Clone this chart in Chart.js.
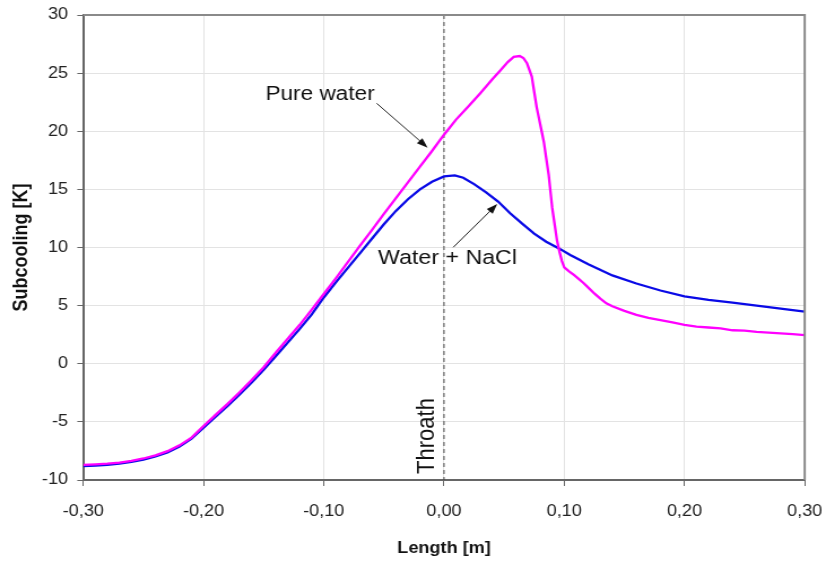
<!DOCTYPE html>
<html><head><meta charset="utf-8">
<script src="https://cdn.jsdelivr.net/npm/chart.js@4"></script>
<style>html,body{margin:0;padding:0;background:#fff;overflow:hidden}</style>
</head><body>
<canvas id="c" width="731" height="562" style="display:block;width:826px;height:562px"></canvas>
<script>
// ---- data ----
const pureX = [-0.300,-0.290,-0.280,-0.270,-0.260,-0.250,-0.240,-0.230,-0.220,-0.210,-0.200,-0.190,-0.180,-0.170,-0.160,-0.150,-0.140,-0.130,-0.120,-0.110,-0.100,-0.090,-0.080,-0.070,-0.060,-0.050,-0.040,-0.030,-0.020,-0.010,0.000,0.010,0.020,0.030,0.040,0.047,0.053,0.058,0.063,0.066,0.069,0.073,0.077,0.080,0.083,0.087,0.090,0.092,0.094,0.096,0.098,0.100,0.104,0.108,0.112,0.116,0.120,0.125,0.130,0.135,0.140,0.150,0.160,0.170,0.180,0.190,0.200,0.210,0.220,0.230,0.240,0.250,0.260,0.270,0.280,0.290,0.300];
const pureY = [-8.70,-8.66,-8.60,-8.50,-8.36,-8.15,-7.88,-7.52,-7.02,-6.35,-5.35,-4.40,-3.45,-2.45,-1.40,-0.30,0.95,2.15,3.35,4.65,6.00,7.35,8.75,10.15,11.50,12.90,14.25,15.60,16.95,18.30,19.70,21.00,22.10,23.25,24.45,25.25,25.95,26.40,26.47,26.30,25.85,24.70,22.10,20.60,19.10,16.30,13.40,12.00,10.60,9.65,8.85,8.30,7.95,7.65,7.30,6.95,6.55,6.05,5.60,5.20,4.95,4.55,4.20,3.95,3.75,3.55,3.35,3.20,3.12,3.05,2.88,2.85,2.75,2.68,2.62,2.55,2.47];
const saltX = [-0.300,-0.290,-0.280,-0.270,-0.260,-0.250,-0.240,-0.230,-0.220,-0.210,-0.200,-0.190,-0.180,-0.170,-0.160,-0.150,-0.140,-0.130,-0.120,-0.110,-0.100,-0.090,-0.080,-0.070,-0.060,-0.050,-0.040,-0.030,-0.020,-0.010,0.000,0.009,0.016,0.025,0.035,0.045,0.055,0.065,0.075,0.085,0.096,0.105,0.120,0.140,0.160,0.170,0.180,0.200,0.220,0.240,0.260,0.280,0.300];
const saltY = [-8.80,-8.76,-8.70,-8.60,-8.45,-8.25,-7.97,-7.62,-7.12,-6.45,-5.50,-4.55,-3.62,-2.65,-1.62,-0.52,0.65,1.82,3.00,4.25,5.70,7.00,8.25,9.50,10.75,12.00,13.15,14.15,15.00,15.66,16.12,16.20,16.00,15.45,14.75,13.95,12.95,12.05,11.20,10.50,9.90,9.35,8.55,7.60,6.90,6.60,6.30,5.80,5.50,5.25,5.00,4.75,4.48];
const seriesNames = ["Pure water", "Water + NaCl"];
const xTitle = "Length [m]";
const yTitle = "Subcooling [K]";
const throatLabel = "Throath";
const throatX = 0.0;

// ---- layout helpers (canvas is stretched horizontally to the reference aspect) ----
const SX = 826/731;
const FONT = '"Liberation Sans", Arial, sans-serif';
const toPts = (xs, ys) => xs.map((x, i) => ({x, y: ys[i]}));
const fmtX = v => { const a = Math.abs(v) < 1e-9 ? 0 : v; return a.toFixed(2).replace('.', ','); };

function arrow(ctx, x1, y1, x2, y2) {
  const ang = Math.atan2(y2 - y1, x2 - x1), L = 10, Wd = 3.5;
  ctx.beginPath(); ctx.moveTo(x1, y1);
  ctx.lineTo(x2 - Math.cos(ang) * L * 0.8, y2 - Math.sin(ang) * L * 0.8); ctx.stroke();
  ctx.beginPath();
  ctx.moveTo(x2, y2);
  ctx.lineTo(x2 - L * Math.cos(ang) + Wd * Math.sin(ang), y2 - L * Math.sin(ang) - Wd * Math.cos(ang));
  ctx.lineTo(x2 - L * Math.cos(ang) - Wd * Math.sin(ang), y2 - L * Math.sin(ang) + Wd * Math.cos(ang));
  ctx.closePath(); ctx.fill();
}

const annot = {
  id: 'annot',
  beforeDatasetsDraw(chart) {
    const {ctx, chartArea: a, scales: {x}} = chart;
    const px = x.getPixelForValue(throatX);
    ctx.save();
    ctx.strokeStyle = '#444'; ctx.lineWidth = 1; ctx.setLineDash([4, 3]);
    ctx.beginPath(); ctx.moveTo(px, a.top); ctx.lineTo(px, a.bottom); ctx.stroke();
    ctx.restore();
  },
  afterDatasetsDraw(chart) {
    const {ctx, chartArea: a, scales: {x, y}} = chart;
    const P = (vx, vy) => [x.getPixelForValue(vx), y.getPixelForValue(vy)];
    ctx.save();
    // frame top/right
    ctx.strokeStyle = '#8a8a8a'; ctx.lineWidth = 2;
    ctx.beginPath(); ctx.moveTo(a.left, a.top); ctx.lineTo(a.right, a.top); ctx.lineTo(a.right, a.bottom); ctx.stroke();
    // labels
    ctx.fillStyle = '#111'; ctx.strokeStyle = '#222'; ctx.lineWidth = 1;
    ctx.font = '20px ' + FONT; ctx.textBaseline = 'middle'; ctx.textAlign = 'center';
    let p = P(-0.1031, 23.12); ctx.fillText(seriesNames[0], p[0], p[1]);
    ctx.font = '20.5px ' + FONT;
    p = P(0.0029, 9.1); ctx.fillText(seriesNames[1], p[0], p[1]);
    let s = P(-0.056, 22.4), t = P(-0.0136, 18.59); arrow(ctx, s[0], s[1], t[0], t[1]);
    s = P(0.0077, 10.02); t = P(0.0443, 13.74); arrow(ctx, s[0], s[1], t[0], t[1]);
    // throat label
    p = P(-0.0137, -6.215);
    ctx.translate(p[0], p[1]); ctx.rotate(-Math.PI / 2);
    ctx.font = '22px ' + FONT; ctx.fillText(throatLabel, 0, 0);
    ctx.restore();
  }
};

new Chart(document.getElementById('c'), {
  type: 'scatter',
  data: {
    datasets: [
      {label: seriesNames[0], data: toPts(pureX, pureY), showLine: true, borderColor: '#ff00ff', backgroundColor: '#ff00ff', borderWidth: 2.3, pointRadius: 0, tension: 0},
      {label: seriesNames[1], data: toPts(saltX, saltY), showLine: true, borderColor: '#0a0ae6', backgroundColor: '#0a0ae6', borderWidth: 2.3, pointRadius: 0, tension: 0}
    ]
  },
  options: {
    responsive: false, animation: false,
    layout: {padding: {left: 0, right: 731 - 804.7 / SX, top: 15, bottom: 0}},
    plugins: {legend: {display: false}, tooltip: {enabled: false}},
    scales: {
      x: {
        type: 'linear', min: -0.3, max: 0.3,
        ticks: {stepSize: 0.1, autoSkip: false, maxRotation: 0, color: '#222', font: {family: FONT, size: 16}, padding: 16, callback: v => fmtX(v)},
        grid: {color: '#e3e3e3', lineWidth: 1, tickLength: 6, tickColor: '#666'},
        border: {color: '#666', width: 2},
        title: {display: true, text: xTitle, color: '#111', font: {family: FONT, size: 16, weight: 'bold'}, padding: {top: 0, bottom: 4}},
        afterFit: s => { s.height = 82; s.paddingLeft = 0; s.paddingRight = 0; }
      },
      y: {
        min: -10, max: 30,
        ticks: {stepSize: 5, color: '#222', font: {family: FONT, size: 16}, padding: 8.2},
        grid: {color: '#e3e3e3', lineWidth: 1, tickLength: 5.3, tickColor: '#666'},
        border: {color: '#666', width: 2},
        title: {display: true, text: yTitle, color: '#111', font: {family: FONT, size: 18, weight: 'bold'}, padding: {top: 8.7, bottom: 0}},
        afterFit: s => { s.width = 83.3 / SX; s.paddingTop = 0; s.paddingBottom = 0; }
      }
    }
  },
  plugins: [annot]
});
</script>
</body></html>
